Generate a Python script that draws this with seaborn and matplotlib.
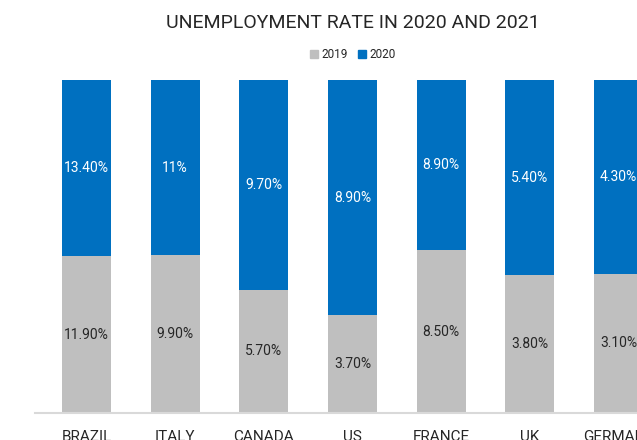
import matplotlib
matplotlib.use("Agg")
import matplotlib.pyplot as plt
import pandas as pd
import seaborn as sns
from matplotlib.patches import Patch

countries = ["BRAZIL", "ITALY", "CANADA", "US", "FRANCE", "UK", "GERMANY"]
rate_2019 = [11.90, 9.90, 5.70, 3.70, 8.50, 3.80, 3.10]
rate_2020 = [13.40, 11.0, 9.70, 8.90, 8.90, 5.40, 4.30]
label_2019 = ["11.90%", "9.90%", "5.70%", "3.70%", "8.50%", "3.80%", "3.10%"]
label_2020 = ["13.40%", "11%", "9.70%", "8.90%", "8.90%", "5.40%", "4.30%"]

GRAY = "#BFBFBF"
BLUE = "#0070C0"
TEXT = "#262626"

sns.set_theme(style="white")
plt.rcParams["font.family"] = ["Roboto", "DejaVu Sans"]

df = pd.DataFrame({"country": countries, "r2019": rate_2019, "r2020": rate_2020})
df["total"] = df["r2019"] + df["r2020"]
df["share2019"] = df["r2019"] / df["total"]
df["full"] = 1.0

fig = plt.figure(figsize=(6.37, 4.40), dpi=100)
ax = fig.add_axes([35 / 637, 27 / 440, 635 / 637, 333 / 440])

# 100% stacked: full-height 2020 bars, 2019 share drawn over the bottom
sns.barplot(data=df, x="country", y="full", color=BLUE, width=0.55,
            saturation=1, linewidth=0, ax=ax)
sns.barplot(data=df, x="country", y="share2019", color=GRAY, width=0.55,
            saturation=1, linewidth=0, ax=ax)

for i, row in df.iterrows():
    s = row["share2019"]
    ax.text(i, s / 2, label_2019[i], ha="center", va="center",
            fontsize=10, color=TEXT)
    ax.text(i, s + (1 - s) / 2, label_2020[i], ha="center", va="center",
            fontsize=10, color="white")

ax.set_ylim(0, 1)
ax.set_xlim(-0.58, 6.58)
ax.set_xlabel("")
ax.set_ylabel("")
ax.set_yticks([])
ax.tick_params(axis="x", length=0, pad=12, labelsize=11, labelcolor=TEXT)
for side in ["top", "left", "right"]:
    ax.spines[side].set_visible(False)
ax.spines["bottom"].set_color("#D9D9D9")
ax.spines["bottom"].set_linewidth(1.5)

fig.text(0.554, 1 - 23 / 440, "UNEMPLOYMENT RATE IN 2020 AND 2021",
         ha="center", va="center", fontsize=14, color=TEXT)

handles = [Patch(color=GRAY, label="2019"), Patch(color=BLUE, label="2020")]
fig.legend(handles=handles, loc="center", bbox_to_anchor=(0.554, 1 - 55 / 440),
           ncol=2, frameon=False, fontsize=8.5, handlelength=0.7,
           handleheight=0.7, handletextpad=0.3, columnspacing=0.8,
           labelcolor=TEXT)

fig.savefig("out.png", dpi=100)
